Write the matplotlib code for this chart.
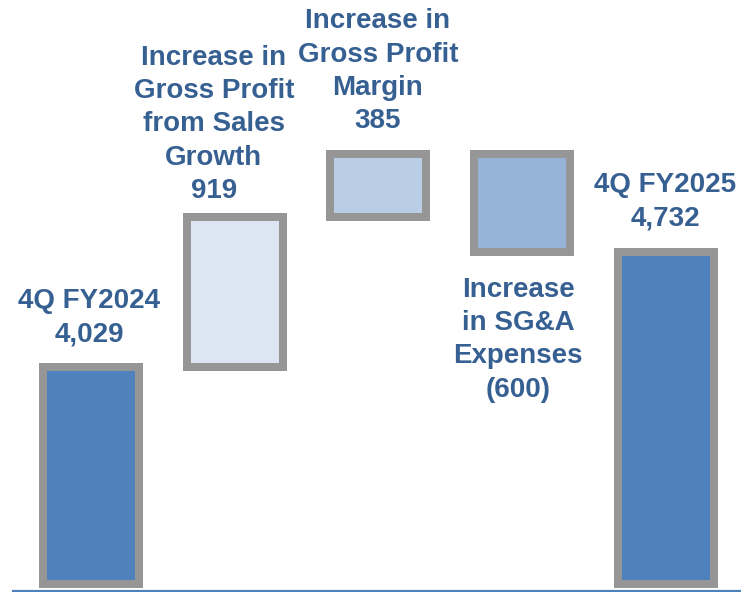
import numpy as np
import matplotlib.pyplot as plt

# waterfall data
labels = ['4Q FY2024',
          'Increase in\nGross Profit\nfrom Sales\nGrowth',
          'Increase in\nGross Profit\nMargin',
          'Increase\nin SG&A\nExpenses',
          '4Q FY2025']
value_text = ['4,029', '919', '385', '(600)', '4,732']
start_value = 4029
changes = [919, 385, -600]
end_value = 4732

axis_floor = 2700  # value axis is truncated, bars start here

fill_colors = ['#4f81bd', '#dce6f2', '#b9cde5', '#95b3d7', '#4f81bd']
edge_color = '#969696'
text_color = '#376092'

# bottoms / heights
running = start_value + np.concatenate(([0], np.cumsum(changes)))
bottoms = [axis_floor]
heights = [start_value - axis_floor]
for i, c in enumerate(changes):
    lo = min(running[i], running[i + 1])
    bottoms.append(lo)
    heights.append(abs(c))
bottoms.append(axis_floor)
heights.append(end_value - axis_floor)
bottoms = np.array(bottoms, dtype=float)
heights = np.array(heights, dtype=float)
x = np.arange(len(labels))

fig = plt.figure(figsize=(7.41, 5.92), dpi=100)
ax = fig.add_axes([13 / 741, 1.5 / 592, 1 - 13 / 741, 1 - 1.5 / 592])

ax.bar(x, heights, bottom=bottoms, width=0.668, color=fill_colors,
       edgecolor=edge_color, linewidth=5.76, zorder=2)

ax.set_xlim(-0.5426, 4.522)
ax.set_ylim(2663, 6275)

for s in ['top', 'left', 'right']:
    ax.spines[s].set_visible(False)
ax.spines['bottom'].set_color('#4f81bd')
ax.spines['bottom'].set_linewidth(1.6)
ax.set_xticks([])
ax.set_yticks([])

# label offsets in points (dx, dy); bar 4 label sits below its bar
offsets = [(-1.5, 14.4), (-15, 9.4), (-0.4, 14.4), (-3, -18), (-0.7, 15)]
txt_kw = dict(fontsize=20, fontweight='bold', color=text_color,
              family='Liberation Sans', ha='center', linespacing=1.36,
              textcoords='offset points', annotation_clip=False)
for i in range(len(labels)):
    s = labels[i] + '\n' + value_text[i]
    top = bottoms[i] + heights[i]
    if i == 3:
        ax.annotate(s, (x[i], bottoms[i]), xytext=offsets[i], va='top', **txt_kw)
    else:
        ax.annotate(s, (x[i], top), xytext=offsets[i], va='bottom', **txt_kw)

fig.savefig('out.png', dpi=100)
